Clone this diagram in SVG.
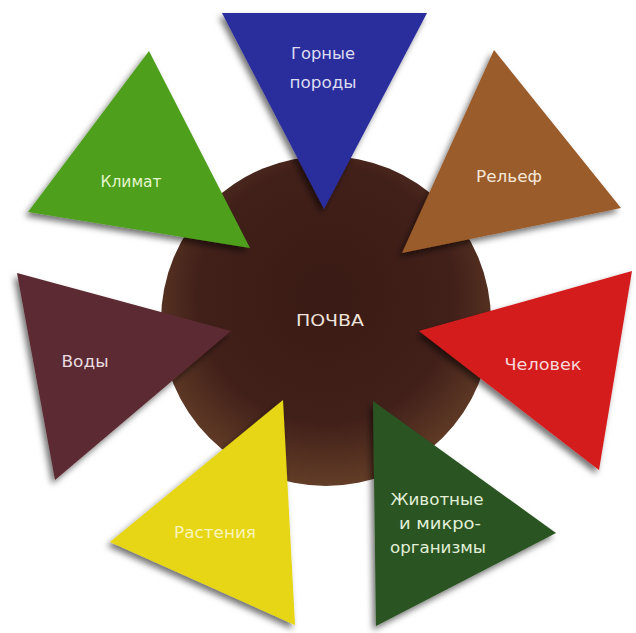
<svg xmlns="http://www.w3.org/2000/svg" width="636" height="633" viewBox="0 0 636 633">
  <defs>
    <radialGradient id="soil" cx="0.5" cy="0.42" r="0.6">
      <stop offset="0" stop-color="#3a1a14"/>
      <stop offset="0.65" stop-color="#42201a"/>
      <stop offset="1" stop-color="#664028"/>
    </radialGradient>
    <filter id="shadow" x="-20%" y="-20%" width="140%" height="140%">
      <feDropShadow dx="-3" dy="4" stdDeviation="3" flood-color="#000" flood-opacity="0.55"/>
    </filter>
  </defs>
  <style>
    .tri { filter: url(#shadow); }
    text { font-family: "DejaVu Sans", "Liberation Sans", sans-serif; font-size: 16px; text-anchor: middle; }
  </style>
  <rect width="636" height="633" fill="#ffffff"/>

  <g id="soil-node">
    <circle cx="326" cy="321" r="165" fill="url(#soil)"/>
    <text x="330" y="326" fill="#eee4dc" textLength="68" lengthAdjust="spacingAndGlyphs">ПОЧВА</text>
  </g>

  <g id="connectors"></g>

  <g id="rocks">
    <polygon class="tri" points="222,13 427,13 324,209" fill="#2c2d9c"/>
    <text x="323" y="59" fill="#dcdcf2" textLength="64" lengthAdjust="spacingAndGlyphs">Горные</text>
    <text x="323" y="88" fill="#dcdcf2" textLength="67" lengthAdjust="spacingAndGlyphs">породы</text>
  </g>

  <g id="climate">
    <polygon class="tri" points="149,51 28,212 250,248" fill="#4e9f1e"/>
    <text x="131" y="187" fill="#e6f6cc" textLength="61" lengthAdjust="spacingAndGlyphs">Климат</text>
  </g>

  <g id="relief">
    <polygon class="tri" points="494,50 621,208 402,253" fill="#9a5b2b"/>
    <text x="509" y="182" fill="#f6e6d6" textLength="66" lengthAdjust="spacingAndGlyphs">Рельеф</text>
  </g>

  <g id="waters">
    <polygon class="tri" points="17,273 231,331 55,480" fill="#5c2a30"/>
    <text x="85" y="367" fill="#eadde0" textLength="47" lengthAdjust="spacingAndGlyphs">Воды</text>
  </g>

  <g id="human">
    <polygon class="tri" points="632,271 419,331 599,470" fill="#d41c1e"/>
    <text x="543" y="370" fill="#f8d8d8" textLength="77" lengthAdjust="spacingAndGlyphs">Человек</text>
  </g>

  <g id="plants">
    <polygon class="tri" points="283,400 110,542 295,625" fill="#e6d612"/>
    <text x="215" y="538" fill="#fbf4b8" textLength="82" lengthAdjust="spacingAndGlyphs">Растения</text>
  </g>

  <g id="animals">
    <polygon class="tri" points="373,401 556,533 376,626" fill="#2a5422"/>
    <text x="437" y="505" fill="#e2efd8" textLength="93" lengthAdjust="spacingAndGlyphs">Животные</text>
    <text x="440" y="529" fill="#e2efd8" textLength="82" lengthAdjust="spacingAndGlyphs">и микро-</text>
    <text x="438" y="553" fill="#e2efd8" textLength="96" lengthAdjust="spacingAndGlyphs">организмы</text>
  </g>
</svg>
